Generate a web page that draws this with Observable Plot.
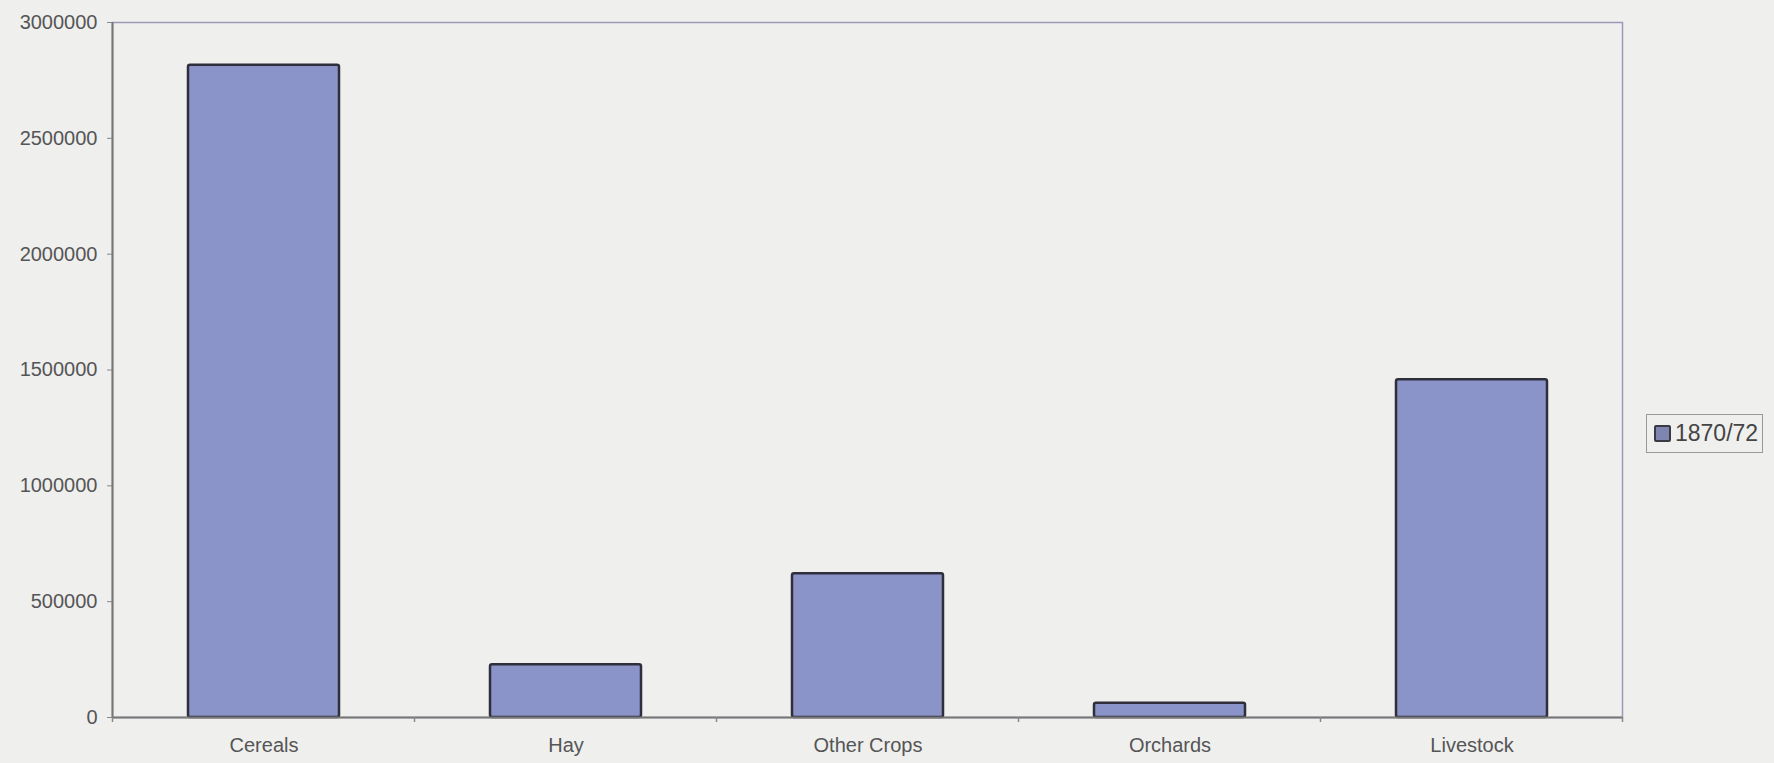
<!DOCTYPE html>
<html>
<head>
<meta charset="utf-8">
<script src="https://cdn.jsdelivr.net/npm/d3@7"></script>
<script src="https://cdn.jsdelivr.net/npm/@observablehq/plot@0.6"></script>
<style>
  html, body { margin: 0; padding: 0; background: #efefee; }
  #wrap { position: relative; width: 1774px; height: 763px; font-family: "Liberation Sans", Arial, sans-serif; }
  #legend { position: absolute; left: 1646px; top: 414px; width: 117px; height: 39px; border: 1px solid #999; box-sizing: border-box;
            display: flex; align-items: center; padding-left: 7px; font-size: 23px; color: #444; }
  #legend .sw { width: 13px; height: 13px; background: #7e86b0; border: 2px solid #3a3a44; border-radius: 2px; margin-right: 4px; }
</style>
</head>
<body>
<div id="wrap"><div id="legend"><span class="sw"></span><span id="legtext"></span></div></div>
<script>
const categories = ["Cereals", "Hay", "Other Crops", "Orchards", "Livestock"];
const values1870 = [2815000, 228000, 620000, 62000, 1458000];
const seriesName = "1870/72";
const yTicks = [0, 500000, 1000000, 1500000, 2000000, 2500000, 3000000];

const data = categories.map((c, i) => ({category: c, value: values1870[i]}));

const chart = Plot.plot({
  width: 1774,
  height: 763,
  marginLeft: 112,
  marginRight: 152,
  marginTop: 22,
  marginBottom: 46,
  style: {background: "transparent", fontFamily: "Liberation Sans, Arial, sans-serif", fontSize: "20px", color: "#555"},
  x: {domain: categories, paddingInner: 0.5, paddingOuter: 0.25, label: null},
  y: {domain: [0, 3000000], label: null},
  marks: [
    Plot.frame({stroke: "#9a9ab8", strokeWidth: 1.5}),
    Plot.barY(data, {x: "category", y: "value", fill: "#8a94c8", stroke: "#2f2f3c", strokeWidth: 2.5, rx: 2}),
    Plot.ruleY([0], {stroke: "#777", strokeWidth: 2}),
    Plot.axisY({ticks: yTicks, tickFormat: d => String(d), tickSize: 5, tickPadding: 10, stroke: "#888", fill: "#555", fontSize: 20}),
    Plot.axisX({tickSize: 0, tickPadding: 20, fill: "#555", fontSize: 20})
  ]
});
document.getElementById("wrap").prepend(chart);
document.getElementById("legtext").textContent = seriesName;

const xs = chart.scale("x");
const ys = chart.scale("y");
const y0 = ys.apply(0);
const yTop = ys.apply(3000000);
const svg = d3.select(chart);
const gap = (xs.step - xs.bandwidth) / 2;
const xLeft = xs.apply(categories[0]) - gap;
// left axis line
svg.append("line")
  .attr("x1", xLeft).attr("x2", xLeft).attr("y1", yTop).attr("y2", y0)
  .attr("stroke", "#777").attr("stroke-width", 2);
// category boundary ticks on the x axis
const bounds = categories.map(c => xs.apply(c) - gap).concat([xs.apply(categories[categories.length - 1]) + xs.bandwidth + gap]);
svg.append("g").selectAll("line").data(bounds).join("line")
  .attr("x1", d => d).attr("x2", d => d).attr("y1", y0).attr("y2", y0 + 5)
  .attr("stroke", "#888").attr("stroke-width", 1.5);
</script>
</body>
</html>
